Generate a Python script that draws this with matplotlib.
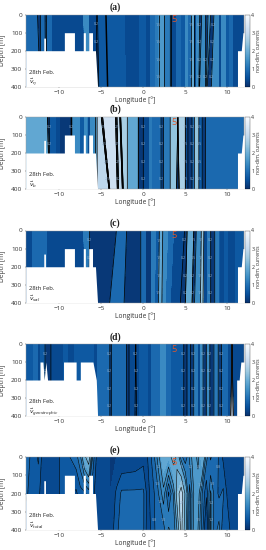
import numpy as np
import matplotlib
matplotlib.use('Agg')
import matplotlib.pyplot as plt

plt.rcParams['font.family'] = ['Open Sans', 'DejaVu Sans']
plt.rcParams['mathtext.fontset'] = 'dejavusans'

# bands: band edges at the surface, at 400 m, value per band
top_edges_a = [-14, -12.6, -12.25, -11.7, -11.5, -10.9, -9.5, -7.1, -6.5, -5.6, -5.45, -4.5, -4.4, -2.3, -0.4, 0.2, 0.8, 1.4, 1.8, 2.5, 3.2, 3.35, 3.9, 4.4, 5, 5.3, 5.7, 6, 6.3, 6.7, 6.95, 7.4, 7.7, 8, 8.4, 8.9, 9.3, 9.8, 10.2, 10.6, 11.1, 12]
bot_edges_a = [-14, -12.3, -12.25, -11.65, -11.55, -10.9, -9.5, -6.9, -6.6, -5.5, -5.3, -4.3, -4.2, -2.1, -0.4, 0.2, 0.8, 1.4, 1.8, 2.5, 3.2, 3.35, 3.9, 4.4, 5, 5.3, 5.7, 6, 6.3, 6.6, 6.7, 7.4, 7.5, 7.6, 8.1, 8.9, 9.3, 9.8, 10.2, 10.6, 11.1, 12]
vals_a = [1.0, 0.1, 0.8, 0.1, 0.9, 0.45, 0.5, 1.3, 0.5, 0.1, 0.6, 0.1, 0.75, 0.35, 0.75, 0.4, 0.85, 1.2, 1.6, 1.1, 0.1, 0.3, 0.9, 0.7, 1.5, 0.9, 2.0, 0.4, 1.4, 0.1, 1.3, 0.1, 1.4, 0.1, 1.5, 0.3, 1.3, 0.6, 1.0, 0.3, 0.45]

top_edges_b = [-14, -11.4, -11.2, -10.5, -10, -8.6, -8.5, -7.6, -7, -6.7, -6.3, -5.7, -5.5, -5, -4.85, -3.3, -3.15, -2.8, -2.7, -1.9, -0.6, 0, 0.7, 1, 2.1, 2.4, 3.2, 4.1, 4.1, 5, 5.3, 5.8, 6.1, 6.6, 7, 7.4, 12]
bot_edges_b = [-14, -11.2, -11.1, -10.5, -10, -8.6, -8.5, -7.6, -7, -6.7, -6.3, -5.7, -5.5, -4.1, -4, -3.1, -2.95, -2.5, -2.4, -1.9, -0.6, 0, 0.7, 1, 2.1, 2.4, 3.2, 3.95, 4.25, 5, 5.3, 5.8, 6.1, 6.6, 7, 7.4, 12]
vals_b = [1.9, 0.1, 0.7, 0.4, 0.25, 0.1, 1.3, 0.6, 1.3, 0.4, 1.4, 1.9, 3.0, 0.05, 3.2, 0.1, 3.0, 0.1, 2.6, 1.8, 0.1, 0.5, 1.2, 0.9, 0.15, 1.1, 2.3, 0.1, 2.6, 0.3, 0.1, 0.8, 2.3, 0.6, 0.1, 0.85]

top_edges_c = [-14, -13.2, -12.6, -11.5, -7.1, -6.4, -3.2, -2, -0.3, 0.3, 1, 1.5, 1.9, 2.3, 2.9, 3.6, 4.9, 5.2, 6, 6.3, 6.9, 7.2, 7.6, 8, 8.5, 9, 9.6, 10, 11, 12]
bot_edges_c = [-14, -13.2, -12.6, -11.5, -6.9, -6.5, -4, -2.3, -0.3, 0.3, 1, 1.3, 1.8, 2.2, 2.6, 3.2, 4.4, 5, 5.8, 6.1, 6.8, 7.1, 7.6, 8, 8.5, 9, 9.6, 10, 11, 12]
vals_c = [0.5, 0.8, 1.0, 0.3, 1.2, 0.2, 0.85, 0.2, 0.9, 0.25, 1.1, 0.6, 2.0, 1.4, 0.8, 0.3, 0.15, 2.0, 0.1, 1.4, 2.3, 0.3, 1.1, 0.15, 1.2, 0.3, 0.7, 0.3, 0.7]

top_edges_d = [-14, -13.1, -12.6, -12.2, -11.7, -11, -10, -9.5, -9, -8.2, -6, -5.5, -4, -3.8, -2, -1.7, -0.9, -0.9, -0.4, 0.5, 1, 1.7, 2, 2.6, 3.2, 4.8, 5.2, 5.6, 6, 6.4, 6.8, 7.1, 7.5, 7.9, 8.4, 8.9, 9.3, 10, 10.55, 10.55, 11.2, 12]
bot_edges_d = [-14, -13.1, -12.6, -12.2, -11.7, -11, -10, -9.5, -9, -8.2, -6, -5.5, -4, -3.8, -2, -1.7, -1.0, -0.8, -0.4, 0.5, 1, 1.7, 2, 2.6, 3.2, 4.8, 5.2, 5.6, 6, 6.4, 6.8, 7.1, 7.5, 7.9, 8.4, 8.9, 9.3, 10, 10.4, 10.7, 11.2, 12]
vals_d = [0.75, 0.9, 0.3, 0.7, 0.15, 0.35, 0.3, 0.7, 0.35, 0.75, 0.5, 0.8, 0.15, 0.85, 0.15, 0.4, 0.05, 0.4, 0.65, 0.5, 0.9, 0.8, 1.5, 0.9, 0.7, 0.1, 0.6, 0.05, 1.1, 0.3, 1.5, 0.1, 1.4, 0.05, 1.2, 0.15, 0.8, 0.5, 3.2, 0.3, 0.4]

# panel (e) is smooth, so it stays as nodes at three depths
lon_e = [-14, -13, -12.5, -12, -11, -10, -9, -8, -7.5, -7, -6.5, -6, -5.5, -4, -3.2, -2.6, -1, 0, 0.5, 1.2, 1.8, 2.4, 3, 3.6, 4, 4.5, 5, 5.5, 6, 6.5, 7, 7.5, 8, 8.5, 9, 9.5, 10, 10.5, 11, 12]
top_e = [0.9, 0.6, 0.8, 0.4, 0.4, 0.5, 0.7, 0.9, 1.2, 1.9, 2.3, 0.9, 0.4, 0.25, 0.25, 0.25, 0.3, 0.4, 0.5, 0.9, 1.4, 2.0, 1.8, 2.2, 1.9, 1.1, 0.8, 1.3, 1.7, 1.4, 2.0, 1.1, 0.7, 1.0, 0.7, 0.45, 0.4, 0.3, 0.3, 0.3]
mid_e = [0.8, 0.6, 0.55, 0.4, 0.4, 0.5, 0.55, 0.45, 0.65, 0.7, 0.85, 0.55, 0.4, 0.25, 0.55, 0.8, 0.8, 0.8, 0.4, 0.7, 1.0, 1.4, 0.7, 1.3, 2.2, 2.8, 1.9, 0.9, 1.5, 1.7, 1.0, 0.55, 1.3, 0.9, 0.7, 0.8, 0.45, 0.45, 0.3, 0.3]
bot_e = [0.6, 0.55, 0.55, 0.45, 0.45, 0.45, 0.45, 0.45, 0.45, 0.45, 0.45, 0.45, 0.3, 0.25, 0.7, 0.85, 0.8, 0.8, 0.35, 0.65, 1.0, 0.9, 1.3, 1.1, 1.5, 2.7, 1.7, 0.85, 1.6, 1.5, 0.9, 0.1, 1.3, 0.9, 1.1, 0.55, 0.65, 0.4, 0.35, 0.35]

depth_two = [0, 400]
depth_three = [0, 200, 400]

# where the grey contour labels sit
label_lon_a = [-6.7, 1.4, 2.0, 5.1, 5.8, 6.5, 7.1, 8.2, 8.9, 9.4]
label_lon_b = [-11.1, -7.6, -4.7, -3, -2.6, 0.2, 2.2, 5, 5.8, 6.8]
label_lon_c = [-6.7, 1.4, 2.1, 4.9, 5.9, 6.9, 7.4, 8.1, 8.7, 9.3]
label_lon_d = [-12.4, -8.9, -6.5, -4, 1.6, 2.6, 5.3, 6.2, 7, 7.8, 8.5, 9.2]
label_lon_e = [-6.8, 1.8, 2.4, 4.5, 5.2, 6.5, 7.1, 8.2]
label_dep = [55, 150, 250, 345]

# sea floor per panel (white below it)
floor_lon_a = [-14, -11.85, -11.85, -11.65, -11.65, -9.4, -9.4, -8.2, -8.2, -7.15, -7.15, -6.9, -6.9, -6.5, -6.5, -6.05, -6.05, -5.7, -5.45, 11.2, 11.2, 11.65, 11.85, 12]
floor_dep_a = [200, 200, 130, 130, 200, 200, 100, 100, 200, 200, 100, 100, 200, 200, 100, 100, 200, 200, 400, 400, 200, 200, 100, 100]
floor_lon_d = [-14, -12.3, -12.3, -11.95, -11.8, -11.6, -11.4, -9.5, -9.5, -8, -8, -7.5, -7.5, -6, -5.6, -5.45, 11.1, 11.1, 11.4, 11.6, 12]
floor_dep_d = [200, 200, 100, 100, 200, 100, 200, 200, 100, 100, 200, 200, 100, 100, 200, 400, 400, 200, 200, 100, 100]

panels = ['(a)', '(b)', '(c)', '(d)', '(e)']
names = [r'$\vec{v}_{\eta}$', r'$\vec{v}_{b}$', r'$\vec{v}_{sal}$', r'$\vec{v}_{geostrophic}$', r'$\vec{v}_{total}$']
bands = [(top_edges_a, bot_edges_a, vals_a), (top_edges_b, bot_edges_b, vals_b),
         (top_edges_c, bot_edges_c, vals_c), (top_edges_d, bot_edges_d, vals_d)]
label_lons = [label_lon_a, label_lon_b, label_lon_c, label_lon_d, label_lon_e]
floors = [(floor_lon_a, floor_dep_a), (floor_lon_a, floor_dep_a), (floor_lon_a, floor_dep_a),
          (floor_lon_d, floor_dep_d), (floor_lon_a, floor_dep_a)]
boxes = [(14.7, 86.7), (117, 189), (230.5, 303), (344, 416), (457, 530)]
title_y = [7, 109, 223, 337, 450]

W, H = 266, 550
levels = np.arange(0, 4.01, 0.25)
fig = plt.figure(figsize=(W / 100, H / 100), dpi=100)


def band_grid(top_edges, bot_edges, vals):
    # sharp steps: two nodes per band, lon given at both depths
    xt, xb, v = [], [], []
    for k in range(len(vals)):
        xt += [top_edges[k] + 0.01, top_edges[k + 1] - 0.01]
        xb += [bot_edges[k] + 0.01, bot_edges[k + 1] - 0.01]
        v += [vals[k], vals[k]]
    X = np.array([xt, xb])
    Y = np.array([[depth_two[0]] * len(xt), [depth_two[1]] * len(xt)])
    return X, Y, np.array([v, v])


for i in range(5):
    y0, y1 = boxes[i]
    ax = fig.add_axes([25.7 / W, 1 - y1 / H, 218.5 / W, (y1 - y0) / H])
    if i < 4:
        X, Y, Z = band_grid(*bands[i])
        line_levels = [0.2, 1.5, 2.5, 3.5]
        line_w = 0.55
    else:
        X, Y = np.meshgrid(lon_e, depth_three)
        Z = np.array([top_e, mid_e, bot_e])
        line_levels = [0.5, 0.75, 1, 1.25, 1.5, 2, 2.5]
        line_w = 0.4
    ax.contourf(X, Y, Z, levels=levels, cmap='Blues_r', vmin=0, vmax=4)
    cl = ax.contour(X, Y, Z, levels=line_levels, colors='black', linewidths=line_w)
    # no labels under the white sea floor
    spots = [(x, d) for x in label_lons[i] for d in label_dep if x > -5.5 or d < 200]
    txt = ax.clabel(cl, fontsize=2.6, colors='#8fb0d0', inline=False, fmt='%.1f', manual=spots)
    # several spots can snap to one line, keep one label there
    kept = []
    for t in list(txt):
        x, d = t.get_position()
        if any(abs(x - a) < 0.7 and abs(d - b) < 30 for a, b in kept):
            t.remove()
        else:
            kept.append((x, d))
            t.set_rotation(0)
    ax.fill_between(floors[i][0], floors[i][1], 400, color='white', zorder=4, lw=0)
    ax.set_xlim(-14, 12)
    ax.set_ylim(400, 0)
    ax.set_xticks([-10, -5, 0, 5, 10])
    ax.set_yticks([0, 100, 200, 300, 400])
    ax.tick_params(labelsize=4.6, length=1, width=0.3, pad=1.5, colors='#333333')
    for s in ax.spines.values():
        s.set_linewidth(0.3)
        s.set_color('#999999')
    ax.set_zorder(2)
    ax.set_xlabel('Longitude [°]', fontsize=4.8, color='#333333')
    ax.set_ylabel('Depth [m]', fontsize=4.8, color='#333333')
    ax.xaxis.set_label_coords(0.5, -9.5 / (y1 - y0))
    ax.yaxis.set_label_coords(-19.5 / 218.5, 0.5)
    ax.text(3.6, 29, '5', color='#e0562a', fontsize=6.7, ha='center', va='center', zorder=6)
    ax.text(-13.65, 320, '28th Feb.', fontsize=4.2, color='#222222', va='center', zorder=6)
    ax.text(-13.65, 378, names[i], fontsize=4.2, color='#222222', va='center', zorder=6)

    cax = fig.add_axes([245 / W, 1 - y1 / H, 5 / W, (y1 - y0) / H])
    sm = plt.cm.ScalarMappable(norm=plt.Normalize(0, 4), cmap='Blues_r')
    cb = fig.colorbar(sm, cax=cax)
    cb.set_ticks([0, 1, 2, 3, 4])
    cb.ax.tick_params(labelsize=3.8, length=0, pad=1, colors='#333333')
    cb.outline.set_linewidth(0.2)
    cb.set_label('non-dim. currents', fontsize=3.7, color='#333333', labelpad=0.8)

    fig.text(115 / W, 1 - title_y[i] / H, panels[i], family='Liberation Serif', weight='bold',
             fontsize=7, ha='center', va='center', color='#222222')

fig.savefig('out.png', dpi=100)
